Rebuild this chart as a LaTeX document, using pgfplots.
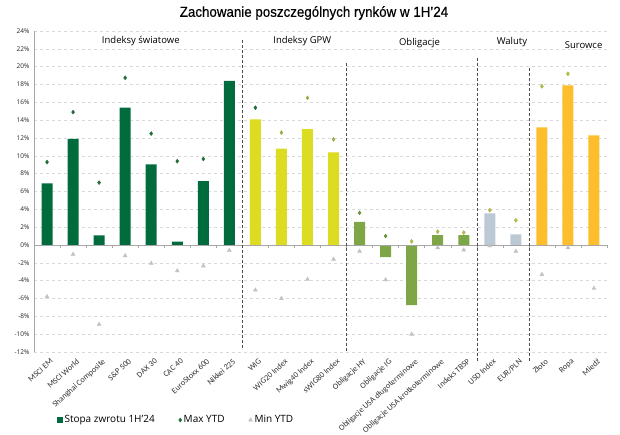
\documentclass[border=0pt]{standalone}
\usepackage{pgfplots}
\pgfplotsset{compat=1.18}
\usepackage{pgfplotstable}
\usepackage{fontspec}
\setmainfont{Open Sans}
\newfontfamily\tickfont{Carlito}
\newfontfamily\titlefont[FakeStretch=0.92,FakeBold=0.4]{Liberation Sans}

\definecolor{cWorld}{HTML}{006B3C}
\definecolor{cGPW}{HTML}{DCDC22}
\definecolor{cBond}{HTML}{7EA646}
\definecolor{cFX}{HTML}{BCC9D4}
\definecolor{cCom}{HTML}{FCBE2C}
\definecolor{mDark}{HTML}{1F6B3A}
\definecolor{mOlive}{HTML}{9AAE4A}
\definecolor{mBond}{HTML}{6B8E3A}
\definecolor{mYel}{HTML}{C6C23A}
\definecolor{cMin}{HTML}{C2C2C2}
\definecolor{cGrid}{HTML}{D9D9D9}

% idx  ret   max   min  (max hidden behind the bar for Nikkei and Miedz)
\pgfplotstableread{
x  r     mx    mn
0  6.9   9.3  -5.8
1  11.9  14.9 -1.05
2  1.08  7.0  -8.9
3  15.4  18.75 -1.2
4  9.05  12.5 -2.05
5  0.37  9.4  -2.9
6  7.15  9.65 -2.35
7  18.4  nan  -0.6
}\tworld
\pgfplotstableread{
x  r     mx    mn
8  14.1  15.4 -5.05
9  10.8  12.6 -6.0
10 13.0  16.5 -3.85
11 10.4  11.85 -1.6
}\tgpw
\pgfplotstableread{
x  r     mx    mn
12 2.6   3.6  -0.7
13 -1.35 1.0  -3.9
14 -6.75 0.4  -10.0
15 1.1   1.5  -0.3
16 1.1   1.4  -0.56
}\tbonds
\pgfplotstableread{
x  r     mx    mn
17 3.55  3.9  -0.1
18 1.2   2.77 -0.7
}\tfx
\pgfplotstableread{
x  r     mx    mn
19 13.2  17.8 -3.3
20 17.9  19.2 -0.3
21 12.3  nan  -4.86
}\tcom

\begin{document}
\begin{tikzpicture}
\path[use as bounding box] (0,0) rectangle (620pt,434pt);
\node[font=\titlefont\fontsize{14.5}{16}\selectfont] at (314pt,421pt) {Zachowanie poszczególnych rynków w 1H’24};
\begin{axis}[
  at={(34pt,82pt)}, anchor=south west,
  width=573pt, height=321pt, scale only axis,
  xmin=-0.5, xmax=21.5, ymin=-12, ymax=24,
  ytick={-12,-10,...,24},
  yticklabel={\pgfmathprintnumber{\tick}\%},
  yticklabel style={font=\fontsize{6.5}{7}\selectfont, text=black!85, xshift=-1pt},
  /pgf/number format/assume math mode=true,
  xtick={0,...,21},
  xticklabels={MSCI EM,MSCI World,Shanghai Composite,S\&P 500,DAX 30,CAC 40,EuroStoxx 600,Nikkei 225,WIG,WIG20 Index,Mwig40 Index,sWIG80 Index,Obligacje HY,Obligacje IG,Obligacje USA długoterminowe,Obligacje USA krotkoterminowe,Indeks TBSP,USD Index,EUR/PLN,Złoto,Ropa,Miedź},
  xticklabel style={rotate=42, anchor=north east, font=\tickfont\fontsize{8.2}{9}\selectfont, text=black!80, yshift=-3pt, xshift=1.5pt},
  major tick length=0pt,
  ymajorgrids, grid style={dashed, cGrid},
  axis x line*=bottom, axis y line*=left,
  x axis line style={draw=none},
  y axis line style={gray!70},
  clip=false,
  legend columns=3,
  legend style={at={(axis description cs:0.248,-0.212)}, anchor=center, draw=none,
    font=\fontsize{10}{11}\selectfont, /tikz/every even column/.append style={column sep=22pt}},
  legend cell align=left,
]
\addplot[ybar, bar width=11pt, fill=cWorld, draw=none,
  legend image code/.code={\fill[cWorld] (0pt,-2.8pt) rectangle (5.6pt,2.8pt);}] table[x=x,y=r]{\tworld};
\addlegendentry{Stopa zwrotu 1H’24}
\addplot[ybar, bar width=11pt, fill=cGPW, draw=none, forget plot] table[x=x,y=r]{\tgpw};
\addplot[ybar, bar width=11pt, fill=cBond, draw=none, forget plot] table[x=x,y=r]{\tbonds};
\addplot[ybar, bar width=11pt, fill=cFX, draw=none, forget plot] table[x=x,y=r]{\tfx};
\addplot[ybar, bar width=11pt, fill=cCom, draw=none, forget plot] table[x=x,y=r]{\tcom};

\addplot[only marks, mark=diamond*, mark size=2pt, mark options={fill=mDark, draw=mDark},
  legend image code/.code={\draw[only marks, mark=diamond*, mark size=2pt, mDark, fill=mDark] plot coordinates {(3pt,0pt)};}] table[x=x,y=mx]{\tworld};
\addlegendentry{Max YTD}
\addplot[only marks, mark=diamond*, mark size=2pt, mark options={fill=mDark, draw=mDark}, forget plot] coordinates {(8,15.4)};
\addplot[only marks, mark=diamond*, mark size=2pt, mark options={fill=mOlive, draw=mOlive}, forget plot] coordinates {(9,12.6) (10,16.5) (11,11.85)};
\addplot[only marks, mark=diamond*, mark size=2pt, mark options={fill=mBond, draw=mBond}, forget plot] coordinates {(12,3.6) (13,1.0)};
\addplot[only marks, mark=diamond*, mark size=2pt, mark options={fill=mYel, draw=mOlive}, forget plot] table[x=x,y=mx]{\tcom};
\addplot[only marks, mark=diamond*, mark size=2pt, mark options={fill=mYel, draw=mOlive}, forget plot] coordinates {(14,0.4) (15,1.5) (16,1.4) (17,3.9) (18,2.77)};

\addplot[only marks, mark=triangle*, mark size=2.3pt, mark options={fill=cMin, draw=cMin},
  legend image code/.code={\draw[only marks, mark=triangle*, mark size=2.3pt, cMin, fill=cMin] plot coordinates {(3pt,0pt)};}] table[x=x,y=mn]{\tworld};
\addlegendentry{Min YTD}
\addplot[only marks, mark=triangle*, mark size=2.3pt, mark options={fill=cMin, draw=cMin}, forget plot] table[x=x,y=mn]{\tgpw};
\addplot[only marks, mark=triangle*, mark size=2.3pt, mark options={fill=cMin, draw=cMin}, forget plot] table[x=x,y=mn]{\tbonds};
\addplot[only marks, mark=triangle*, mark size=2.3pt, mark options={fill=cMin, draw=cMin}, forget plot] table[x=x,y=mn]{\tfx};
\addplot[only marks, mark=triangle*, mark size=2.3pt, mark options={fill=cMin, draw=cMin}, forget plot] table[x=x,y=mn]{\tcom};

% zero line with category ticks
\draw[gray!70] (axis cs:-0.5,0) -- (axis cs:21.5,0);
\pgfplotsinvokeforeach{0,...,22}{
  \draw[gray!70] (axis cs:#1-0.5,0) -- ([yshift=-3pt]axis cs:#1-0.5,0);
}
% group separators
\draw[densely dashed, black!70] (axis cs:7.5,23) -- (axis cs:7.5,-11.5);
\draw[densely dashed, black!70] (axis cs:11.5,20.4) -- (axis cs:11.5,-12);
\draw[densely dashed, black!70] (axis cs:16.5,21) -- (axis cs:16.5,-13.2);
\draw[densely dashed, black!70] (axis cs:18.5,19.8) -- (axis cs:18.5,-13.2);
% group labels
\node[font=\fontsize{9.5}{10}\selectfont] at (axis cs:3.6,22.9) {Indeksy światowe};
\node[font=\fontsize{9.5}{10}\selectfont] at (axis cs:9.8,22.9) {Indeksy GPW};
\node[font=\fontsize{9.5}{10}\selectfont] at (axis cs:14.3,22.7) {Obligacje};
\node[font=\fontsize{9.5}{10}\selectfont] at (axis cs:17.85,22.8) {Waluty};
\node[font=\fontsize{9.5}{10}\selectfont] at (axis cs:20.6,22.4) {Surowce};
\end{axis}
\end{tikzpicture}
\end{document}
